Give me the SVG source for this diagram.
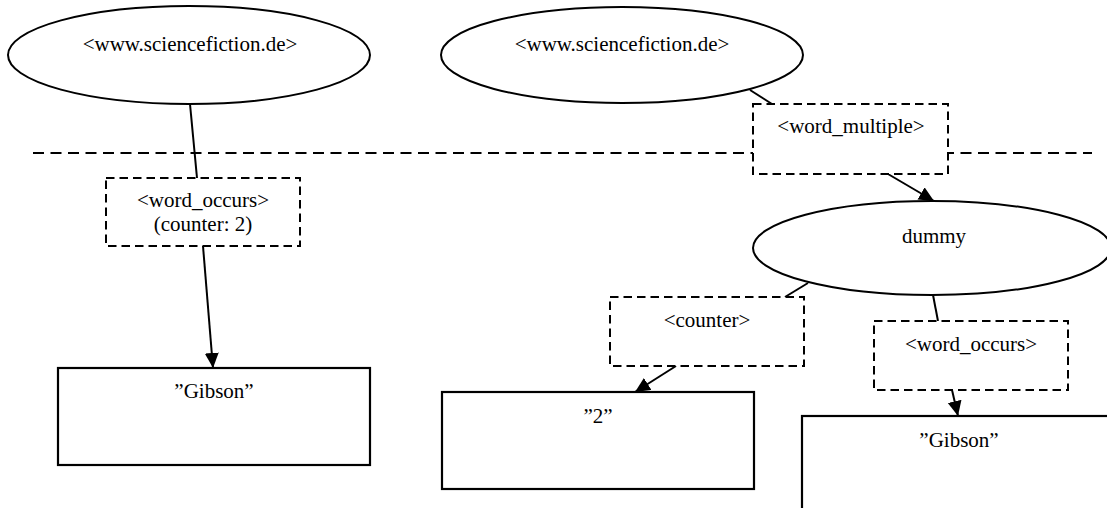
<svg xmlns="http://www.w3.org/2000/svg" width="1107" height="508" viewBox="0 0 1107 508">
<style>
text{font-family:"Liberation Serif","Times New Roman",serif;font-size:21px;fill:#000;text-anchor:middle}
.ell{fill:#fff;stroke:#000;stroke-width:2}
.dash{fill:#fff;stroke:#000;stroke-width:2;stroke-dasharray:8.5 5}
.box{fill:#fff;stroke:#000;stroke-width:2.2}
.edge{stroke:#000;stroke-width:2;fill:none}
.sep{stroke:#000;stroke-width:2;stroke-dasharray:11 6.5;fill:none}
</style>
<defs>
<marker id="arr" markerUnits="userSpaceOnUse" markerWidth="16" markerHeight="15" refX="15" refY="7" orient="auto">
<path d="M0,0 L15,7 L0,14 z" fill="#000"/>
</marker>
</defs>
<rect width="1107" height="508" fill="#fff"/>
<line class="sep" x1="33" y1="153" x2="1092" y2="153"/>
<g id="connectors">
<line class="edge" x1="190" y1="104" x2="197" y2="178"/>
<line class="edge" x1="203" y1="246" x2="213" y2="368" marker-end="url(#arr)"/>
<line class="edge" x1="750" y1="90" x2="772" y2="104"/>
<line class="edge" x1="888" y1="174" x2="934" y2="201" marker-end="url(#arr)"/>
<line class="edge" x1="808" y1="283" x2="785" y2="297"/>
<line class="edge" x1="676" y1="366" x2="635" y2="392" marker-end="url(#arr)"/>
<line class="edge" x1="933" y1="295" x2="938" y2="321"/>
<line class="edge" x1="952" y1="390" x2="958" y2="416" marker-end="url(#arr)"/>
</g>
<g id="site1">
<ellipse class="ell" cx="189" cy="55" rx="181" ry="49"/>
<text x="190" y="51">&lt;www.sciencefiction.de&gt;</text>
</g>
<g id="word_occurs1">
<rect class="dash" x="106" y="178" width="194" height="68"/>
<text x="203" y="207">&lt;word_occurs&gt;</text>
<text x="203" y="231">(counter: 2)</text>
</g>
<g id="gibson1">
<rect class="box" x="58" y="368" width="312" height="97"/>
<text x="214" y="398">”Gibson”</text>
</g>
<g id="site2">
<ellipse class="ell" cx="622" cy="55" rx="181" ry="48"/>
<text x="622" y="51">&lt;www.sciencefiction.de&gt;</text>
</g>
<g id="word_multiple">
<rect class="dash" x="753" y="104" width="195" height="70"/>
<text x="851" y="133">&lt;word_multiple&gt;</text>
</g>
<g id="dummy">
<ellipse class="ell" cx="932" cy="248" rx="179" ry="47"/>
<text x="934" y="243">dummy</text>
</g>
<g id="counter">
<rect class="dash" x="610" y="297" width="194" height="69"/>
<text x="707" y="327">&lt;counter&gt;</text>
</g>
<g id="value2">
<rect class="box" x="442" y="392" width="312" height="97"/>
<text x="598" y="423">”2”</text>
</g>
<g id="word_occurs2">
<rect class="dash" x="874" y="321" width="194" height="69"/>
<text x="971" y="351">&lt;word_occurs&gt;</text>
</g>
<g id="gibson2">
<rect class="box" x="802" y="416" width="320" height="120"/>
<text x="959" y="447">”Gibson”</text>
</g>
</svg>
